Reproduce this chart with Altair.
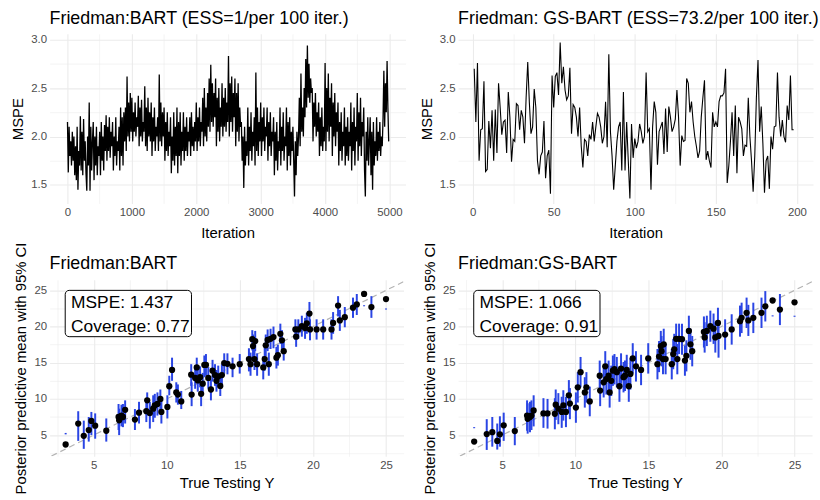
import altair as alt
import pandas as pd

# ---------------- data ----------------
# BART MSPE trace (5000 iterations, read every ~12.5 iterations)
bart_trace = [
    2.15, 1.63, 2.10, 1.80, 1.95, 1.70, 2.05, 1.75,
    2.00, 1.60, 1.90, 1.55, 2.10, 1.45, 1.85, 1.70,
    2.21, 1.65, 2.05, 1.60, 2.18, 1.75, 1.95, 1.62,
    1.44, 2.00, 1.70, 2.35, 1.44, 2.10, 1.65, 1.95,
    2.15, 1.55, 2.00, 1.70, 2.10, 1.60, 1.90, 1.80,
    2.05, 1.60, 2.15, 1.75, 2.00, 1.65, 2.12, 1.85,
    2.22, 1.75, 2.10, 1.85, 2.20, 1.78, 2.05, 1.90,
    2.15, 1.65, 2.00, 1.80, 2.20, 1.70, 1.95, 1.85,
    2.10, 1.65, 2.30, 1.80, 2.20, 1.70, 2.25, 1.95,
    2.30, 1.85, 2.62, 2.00, 2.35, 1.95, 2.45, 2.05,
    2.40, 1.95, 2.25, 2.05, 2.35, 2.00, 2.20, 2.10,
    2.42, 1.90, 2.30, 2.00, 2.38, 1.95, 2.15, 2.05,
    2.52, 1.90, 2.30, 1.85, 2.40, 2.00, 2.25, 1.95,
    2.35, 1.80, 2.20, 1.95, 2.30, 1.85, 2.10, 2.00,
    2.20, 1.85, 2.64, 1.95, 2.35, 1.90, 2.25, 2.00,
    2.30, 1.75, 2.15, 1.85, 2.25, 1.80, 2.05, 1.90,
    2.20, 1.62, 2.00, 1.75, 2.25, 1.70, 2.10, 1.80,
    2.30, 1.62, 2.15, 1.80, 2.25, 1.70, 2.05, 1.85,
    2.25, 1.75, 2.10, 1.85, 2.20, 1.80, 2.05, 1.95,
    2.20, 1.80, 2.25, 1.90, 2.10, 1.85, 2.15, 1.95,
    2.35, 1.85, 2.20, 1.95, 2.30, 1.90, 2.15, 2.05,
    2.40, 1.90, 2.50, 2.00, 2.30, 1.95, 2.45, 2.10,
    2.60, 2.05, 2.74, 2.15, 2.55, 2.10, 2.45, 2.20,
    2.60, 1.90, 2.40, 2.05, 2.50, 1.95, 2.30, 2.10,
    2.55, 2.00, 2.40, 2.10, 2.50, 2.05, 2.35, 2.15,
    2.83, 2.00, 2.55, 2.15, 2.62, 2.05, 2.45, 2.20,
    2.60, 1.90, 2.45, 2.05, 2.55, 1.95, 2.30, 2.10,
    2.15, 1.75, 2.00, 1.47, 2.10, 1.70, 1.95, 1.80,
    2.30, 1.70, 2.10, 1.85, 2.25, 1.75, 2.05, 1.90,
    2.20, 1.70, 2.66, 1.85, 2.30, 1.80, 2.15, 1.95,
    2.35, 1.80, 2.20, 1.95, 2.30, 1.85, 2.10, 2.00,
    2.30, 1.75, 2.15, 1.90, 2.25, 1.80, 2.05, 1.95,
    2.20, 1.60, 2.05, 1.75, 2.15, 1.65, 1.95, 1.85,
    2.30, 1.70, 2.10, 1.85, 2.25, 1.75, 2.00, 1.90,
    2.30, 1.65, 2.15, 1.80, 2.20, 1.70, 2.05, 1.85,
    2.10, 1.75, 1.38, 1.95, 1.60, 2.05, 1.80, 2.00,
    2.40, 1.90, 2.65, 2.05, 2.30, 2.00, 2.50, 2.20,
    2.80, 2.30, 2.94, 2.40, 2.75, 2.35, 2.60, 2.45,
    2.50, 1.95, 2.35, 2.10, 2.45, 2.00, 2.25, 2.05,
    2.35, 1.80, 2.20, 1.90, 2.30, 1.85, 2.10, 1.95,
    2.76, 1.85, 2.50, 2.05, 2.65, 1.95, 2.40, 2.10,
    2.55, 1.80, 2.35, 2.00, 2.45, 1.90, 2.25, 2.05,
    2.35, 1.70, 2.15, 1.85, 2.25, 1.75, 2.05, 1.90,
    2.30, 1.70, 2.10, 1.80, 2.20, 1.75, 2.05, 1.90,
    2.35, 1.65, 2.15, 1.85, 2.30, 1.70, 2.10, 1.95,
    2.45, 1.75, 2.25, 1.90, 2.40, 1.80, 2.15, 2.00,
    2.30, 1.65, 1.38, 2.05, 1.75, 2.20, 1.70, 1.95,
    2.20, 1.60, 2.05, 1.45, 2.15, 1.70, 1.95, 1.80,
    2.20, 1.75, 2.05, 1.85, 2.15, 1.80, 2.00, 1.90,
    2.20, 2.68, 2.10, 2.55, 2.25, 2.78, 2.30, 1.95,
]

# GS-BART MSPE trace (iterations 1..198)
gs_trace = [
    2.70, 2.15, 2.76, 1.75, 2.07, 2.08, 2.57, 1.64, 1.66, 2.16,
    1.88, 2.27, 1.75, 2.28, 1.83, 2.55, 2.30, 2.02, 2.15, 2.17,
    1.83, 2.46, 2.20, 1.74, 1.97, 1.95, 2.34, 2.32, 2.07, 2.27,
    2.20, 1.93, 2.40, 2.77, 2.35, 2.03, 2.10, 2.49, 2.30, 1.75,
    1.61, 1.80, 1.84, 2.16, 1.57, 1.80, 1.86, 1.41, 2.63, 2.30,
    2.62, 2.66, 2.43, 2.97, 2.55, 2.72, 2.48, 2.38, 2.42, 2.71,
    2.03, 2.33, 2.30, 2.20, 2.00, 2.30, 1.90, 1.68, 1.97, 1.95,
    1.80, 2.02, 1.97, 2.15, 1.95, 2.10, 2.24, 2.20, 2.10, 1.93,
    2.00, 2.36, 1.89, 2.85, 2.05, 1.80, 1.45, 1.70, 1.95, 2.10,
    2.15, 1.65, 2.46, 1.65, 2.15, 1.75, 1.36, 2.13, 1.78, 1.98,
    1.88, 1.95, 2.13, 2.05, 1.93, 2.00, 2.66, 2.05, 2.08, 1.45,
    2.10, 2.36, 2.25, 1.71, 2.05, 2.10, 2.15, 1.82, 2.29, 1.84,
    2.31, 2.20, 2.05, 2.10, 2.18, 2.48, 2.20, 1.70, 2.01, 1.95,
    1.96, 2.60, 2.55, 2.25, 2.36, 2.15, 2.00, 1.90, 1.78, 1.85,
    2.20, 2.40, 2.58, 1.76, 1.85, 1.75, 1.68, 2.25, 2.10, 2.15,
    2.10, 2.36, 2.42, 2.42, 2.45, 2.70, 1.52, 1.70, 1.95, 2.25,
    1.80, 2.32, 1.62, 2.20, 2.15, 2.08, 1.80, 1.91, 1.90, 2.40,
    2.00, 1.75, 1.43, 1.80, 2.40, 2.79, 2.05, 2.31, 1.93, 1.42,
    1.75, 1.80, 1.46, 2.00, 1.87, 2.10, 2.11, 2.66, 2.20, 2.00,
    2.17, 2.00, 1.94, 2.32, 2.17, 2.63, 2.07, 2.07,
]

# Test set: true Y and posterior predictive summaries
true_y = [3.08, 3.94, 4.32, 4.66, 4.84, 5.10, 5.86, 6.70, 6.74, 6.90,
          7.00, 7.15, 7.82, 8.10, 8.60, 8.66, 8.84, 9.07, 9.18, 9.36,
          9.56, 9.63, 10.04, 10.17, 10.36, 10.65, 10.76, 10.99, 11.67, 11.70,
          11.94, 12.05, 12.12, 12.28, 12.35, 12.46, 12.57, 12.68, 12.84, 13.02,
          13.13, 13.30, 13.40, 13.52, 13.66, 13.77, 13.93, 14.15, 14.50, 14.99,
          15.62, 15.73, 15.85, 15.90, 16.00, 16.05, 16.18, 16.60, 16.70, 16.77,
          16.90, 16.98, 17.10, 17.30, 17.50, 17.60, 17.77, 17.88, 18.00, 18.80,
          18.85, 19.00, 19.24, 19.46, 19.58, 19.76, 19.80, 20.25, 20.70, 21.27,
          21.38, 21.72, 21.84, 22.18, 22.74, 23.00, 23.50, 24.00, 25.00]

bart_mean = [3.70, 6.60, 4.90, 5.70, 6.95, 6.30, 5.60, 7.50, 7.05, 7.70,
             7.50, 8.50, 7.15, 8.10, 8.30, 9.80, 8.05, 8.65, 9.10, 9.30,
             10.00, 8.20, 8.90, 11.75, 14.00, 10.90, 10.60, 9.65, 13.35, 10.60,
             12.90, 14.35, 12.55, 13.00, 10.70, 12.10, 14.70, 14.70, 12.90, 11.30,
             13.90, 13.30, 12.50, 13.10, 11.80, 13.30, 14.95, 14.85, 14.50, 14.80,
             15.50, 14.80, 18.25, 17.30, 15.50, 18.00, 14.80, 14.35, 15.50, 17.40,
             18.15, 14.80, 18.30, 18.55, 15.70, 16.05, 19.00, 18.10, 16.60, 19.60,
             18.60, 19.60, 20.05, 19.80, 20.45, 21.80, 19.60, 19.60, 19.60, 19.60,
             20.50, 22.90, 20.85, 21.30, 22.60, 23.05, 24.50, 22.70, 23.80]
bart_lo = [5.10, 4.20, 3.10, 4.10, 5.00, 4.50, 4.10, 5.70, 5.00, 6.20,
           6.10, 6.60, 5.70, 6.60, 6.80, 7.70, 5.90, 6.80, 7.40, 7.70,
           8.40, 6.60, 7.30, 10.50, 12.50, 9.50, 9.20, 8.60, 11.80, 9.00,
           11.40, 12.50, 11.00, 11.60, 9.00, 10.60, 13.00, 13.20, 11.40, 9.80,
           12.40, 11.80, 11.00, 11.60, 10.40, 11.90, 13.50, 13.40, 13.00, 13.50,
           13.80, 13.20, 16.70, 15.80, 14.00, 16.60, 13.20, 12.70, 13.90, 15.90,
           16.60, 13.20, 16.90, 17.00, 14.20, 14.60, 17.60, 16.70, 15.30, 18.20,
           17.20, 18.30, 18.60, 18.30, 19.00, 20.20, 18.10, 18.20, 18.20, 18.20,
           19.00, 21.40, 19.40, 19.90, 21.20, 21.60, 22.80, 21.20, 22.35]
bart_hi = [5.30, 8.30, 7.00, 7.50, 8.20, 8.00, 7.30, 9.30, 8.65, 9.20,
           9.30, 9.80, 8.60, 9.60, 10.00, 10.90, 9.60, 10.50, 10.70, 10.90,
           11.30, 9.80, 10.50, 13.20, 15.70, 12.30, 12.00, 11.10, 14.80, 12.30,
           14.40, 15.70, 14.10, 14.50, 12.30, 13.60, 16.00, 16.20, 14.40, 12.70,
           15.40, 14.80, 14.00, 14.60, 13.20, 14.80, 16.30, 16.30, 15.70, 16.20,
           17.00, 16.40, 19.50, 18.90, 17.00, 19.40, 16.30, 15.90, 17.10, 18.90,
           19.60, 16.40, 19.70, 20.00, 17.20, 17.50, 20.40, 19.50, 17.90, 21.00,
           20.00, 21.00, 21.50, 21.20, 21.90, 23.40, 21.00, 21.00, 21.00, 21.00,
           22.00, 24.20, 22.30, 22.70, 24.00, 24.50, 22.95, 24.20, 22.50]

gs_mean = [4.10, 5.15, 5.40, 4.20, 5.10, 6.35, 5.55, 7.70, 7.25, 7.50,
           7.70, 8.40, 8.00, 8.00, 7.95, 9.20, 8.65, 8.20, 9.10, 8.20,
           10.50, 9.35, 8.80, 11.60, 13.70, 10.90, 11.60, 9.65, 13.20, 11.15,
           12.30, 14.50, 12.75, 13.20, 10.90, 12.50, 13.90, 14.10, 13.70, 11.75,
           14.20, 13.00, 13.20, 14.00, 11.75, 13.45, 15.60, 14.50, 14.00, 15.60,
           14.80, 15.85, 17.30, 16.60, 15.50, 17.55, 15.50, 14.80, 16.20, 16.85,
           18.30, 15.50, 18.30, 18.25, 15.30, 15.95, 19.40, 17.55, 16.60, 19.25,
           18.50, 19.40, 20.05, 19.70, 18.50, 20.50, 18.70, 18.90, 19.60, 20.75,
           21.20, 21.90, 20.85, 21.20, 21.90, 22.80, 23.60, 22.35, 23.35]
gs_lo = [5.95, 2.95, 3.40, 3.00, 3.40, 4.20, 3.60, 5.60, 5.20, 5.40,
         5.70, 6.20, 6.00, 5.90, 5.80, 7.10, 6.50, 6.00, 7.00, 6.10,
         8.40, 7.20, 6.70, 9.50, 11.60, 8.80, 9.50, 7.60, 11.10, 9.00,
         10.20, 12.40, 10.60, 11.10, 8.80, 10.40, 11.80, 12.00, 11.60, 9.60,
         12.10, 10.90, 11.10, 11.90, 9.60, 11.30, 13.50, 12.40, 11.90, 13.50,
         12.70, 13.70, 15.20, 14.50, 13.40, 15.40, 13.40, 12.70, 14.10, 14.70,
         16.20, 13.40, 16.20, 16.10, 13.20, 13.80, 17.30, 15.40, 14.50, 17.10,
         16.40, 17.30, 17.90, 17.60, 16.40, 18.40, 15.70, 16.80, 17.50, 18.60,
         19.10, 19.80, 18.70, 19.10, 19.80, 20.70, 21.40, 20.20, 21.35]
gs_hi = [6.10, 7.20, 7.50, 6.60, 7.60, 8.10, 7.50, 9.80, 9.40, 9.60,
         9.80, 10.50, 10.10, 10.00, 10.10, 11.30, 10.80, 10.30, 11.20, 10.30,
         12.60, 11.50, 10.90, 13.70, 15.80, 13.00, 13.70, 11.70, 15.30, 13.30,
         14.40, 16.60, 14.90, 15.30, 13.00, 14.60, 16.00, 16.20, 15.80, 13.90,
         16.30, 15.10, 15.30, 16.10, 13.90, 15.60, 17.70, 16.60, 16.10, 17.70,
         16.90, 18.00, 19.40, 18.70, 17.60, 19.70, 17.60, 16.90, 18.30, 19.00,
         20.40, 17.60, 20.40, 20.40, 17.40, 18.10, 21.50, 19.70, 18.70, 21.40,
         20.60, 21.50, 22.20, 21.80, 20.60, 22.60, 20.80, 21.00, 21.70, 22.90,
         23.30, 24.00, 23.00, 23.30, 24.00, 24.90, 21.55, 24.50, 21.50]

bart_iter = [1 + 12.5 * i for i in range(len(bart_trace))]
gs_iter = list(range(1, len(gs_trace) + 1))

# ---------------- styling ----------------
FONT = "Liberation Sans"
GRID = "#EBEBEB"
BLUE = "#2a45e4"


def grid_axis(title, values, test, fmt, orient, title_pad=5):
    return alt.Axis(
        title=title,
        values=values,
        format=fmt,
        labelExpr=f"({test}) ? datum.label : ''",
        gridWidth={"condition": {"test": test, "value": 1.1}, "value": 0.55},
        labelOverlap=False,
        labelFlush=False,
        labelAlign="right" if orient == "left" else "center",
        labelBaseline="middle" if orient == "left" else "top",
        titlePadding=title_pad,
    )


trace_y_vals = [1.5, 1.75, 2.0, 2.25, 2.5, 2.75, 3.0]
trace_y_scale = alt.Scale(domain=[1.31, 3.06], nice=False, zero=False)


def trace_panel(iters, vals, title, xdom, xvals, xtest, sw, width):
    df = pd.DataFrame({"iter": iters, "mspe": vals})
    return alt.Chart(df).mark_line(color="black", strokeWidth=sw).encode(
        x=alt.X("iter:Q", scale=alt.Scale(domain=xdom, nice=False, zero=False),
                axis=grid_axis("Iteration", xvals, xtest, "d", "bottom", 8)),
        y=alt.Y("mspe:Q", scale=trace_y_scale,
                axis=grid_axis("MSPE", trace_y_vals, "datum.value % 0.5 === 0", ".1f", "left")),
    ).properties(width=width, height=171, title=title)


tl = trace_panel(bart_iter, bart_trace, "Friedman:BART (ESS=1/per 100 iter.)",
                 [-277, 5250], list(range(0, 5001, 500)), "datum.value % 1000 === 0", 1.3, 359)
tr = trace_panel(gs_iter, gs_trace, "Friedman: GS-BART (ESS=73.2/per 100 iter.)",
                 [-8.95, 209.95], list(range(0, 201, 25)), "datum.value % 50 === 0", 1.1, 358)

sc_vals = [2.5, 5, 7.5, 10, 12.5, 15, 17.5, 20, 22.5, 25]
sc_test = "datum.value % 5 === 0"
xsc = alt.Scale(domain=[1.98, 26.2], nice=False, zero=False)
ysc = alt.Scale(domain=[2.08, 26.47], nice=False, zero=False)


def sx(field):
    return alt.X(field, scale=xsc, axis=grid_axis("True Testing Y", sc_vals, sc_test, "d", "bottom"))


def sy(field):
    return alt.Y(field, scale=ysc,
                 axis=grid_axis("Posterior predictive mean with 95% CI", sc_vals, sc_test, "d", "left"))


def scatter_panel(mean, lo, hi, title, mspe_txt, cov_txt):
    df = pd.DataFrame({"truth": true_y, "mean": mean, "lo": lo, "hi": hi})
    base = alt.Chart(df)
    diag = alt.Chart(pd.DataFrame({"a": [1.5, 27.0], "b": [1.5, 27.0]})).mark_line(
        color="#B3B3B3", strokeDash=[6, 4], strokeWidth=1.2, clip=True
    ).encode(x=sx("a:Q"), y=sy("b:Q"))
    bars = base.mark_rule(color=BLUE, strokeWidth=2).encode(
        x=sx("truth:Q"), y=sy("lo:Q"), y2="hi:Q"
    )
    pts = base.mark_circle(color="black", size=40, opacity=1).encode(
        x=sx("truth:Q"), y=sy("mean:Q")
    )
    box = alt.Chart(pd.DataFrame({"x1": [3.05], "x2": [11.69], "y1": [18.6], "y2": [25.0]})).mark_rect(
        fill="white", stroke="black", strokeWidth=1, cornerRadius=4
    ).encode(x=sx("x1:Q"), x2="x2:Q", y=sy("y1:Q"), y2="y2:Q")
    txt = alt.Chart(pd.DataFrame({"tx": [3.45, 3.45], "ty": [23.3, 19.95],
                                  "label": [mspe_txt, cov_txt]})).mark_text(
        align="left", baseline="middle", font=FONT, fontSize=17.5, color="black"
    ).encode(x=sx("tx:Q"), y=sy("ty:Q"), text="label:N")
    return alt.layer(diag, bars, pts, box, txt).properties(
        width=357, height=178,
        title=alt.TitleParams(title, offset=-31),
    )


bl = scatter_panel(bart_mean, bart_lo, bart_hi, "Friedman:BART", "MSPE: 1.437", "Coverage: 0.77")
br = scatter_panel(gs_mean, gs_lo, gs_hi, "Friedman:GS-BART", "MSPE: 1.066", "Coverage: 0.91")

chart = alt.concat(
    tl, tr, bl, br, columns=2, spacing={"row": 77, "column": 53}, bounds="flush"
).properties(
    padding={"left": 11, "top": 7, "right": 0, "bottom": 0},
    background="white",
).configure_view(stroke=None).configure_axis(
    labelFont=FONT, titleFont=FONT, labelColor="#4D4D4D", labelFontSize=11.5,
    titleFontSize=15, titleFontWeight="normal", titleColor="black",
    domain=False, ticks=False, gridColor=GRID, labelPadding=3,
).configure_title(
    font=FONT, fontSize=18, fontWeight="normal", anchor="start", frame="group",
    color="black", offset=6,
)

chart.save("out.html", embed_options={"renderer": "svg", "actions": False})
